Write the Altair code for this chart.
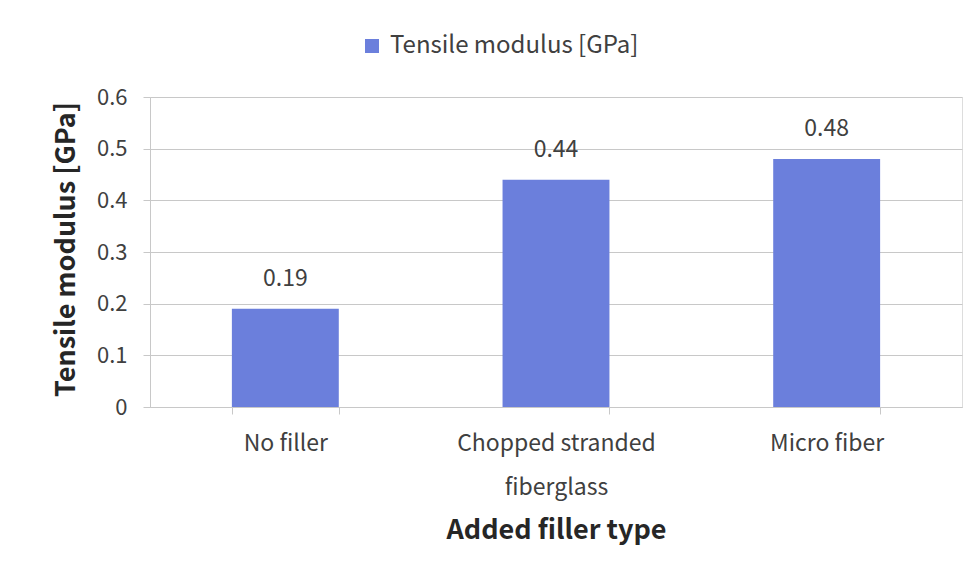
import altair as alt
import pandas as pd

categories = ["No filler", "Chopped stranded\nfiberglass", "Micro fiber"]
values = [0.19, 0.44, 0.48]
series_name = "Tensile modulus [GPa]"
y_ticks = [0, 0.1, 0.2, 0.3, 0.4, 0.5, 0.6]

df = pd.DataFrame({
    "cat": categories,
    "val": values,
    "series": [series_name] * len(categories),
})

FONT = "Noto Sans CJK KR"
BAR = "#6b7fdc"
TXT = "#404040"

x_enc = alt.X(
    "cat:N",
    sort=categories,
    scale=alt.Scale(paddingInner=0.605, paddingOuter=0.3025),
    axis=alt.Axis(
        title="Added filler type",
        labelExpr="split(datum.label, '\\n')",
        labelAngle=0,
        labelFontSize=23,
        labelLineHeight=44,
        labelPadding=18,
        labelLimit=400,
        labelColor=TXT,
        labelFont=FONT,
        tickBand="extent",
        tickSize=7,
        tickColor="#c8c8c8",
        domainColor="#c8c8c8",
        grid=False,
        titleFont=FONT,
        titleFontSize=27,
        titleFontWeight="bold",
        titleColor="#262626",
        titleY=123,
        titleBaseline="middle",
    ),
)

y_enc = alt.Y(
    "val:Q",
    scale=alt.Scale(domain=[0, 0.6], nice=False),
    axis=alt.Axis(
        title="Tensile modulus [GPa]",
        values=y_ticks,
        labelExpr="datum.value == 0 ? '0' : format(datum.value, '.1f')",
        labelFontSize=22,
        labelPadding=16,
        labelColor=TXT,
        labelFont=FONT,
        tickSize=7,
        tickColor="#c8c8c8",
        domainColor="#c8c8c8",
        gridColor="#c8c8c8",
        titleFont=FONT,
        titleFontSize=27,
        titleFontWeight="bold",
        titleColor="#262626",
        titleX=-70,
        titleY=152,
        titleAngle=270,
        titleBaseline="bottom",
        titleAlign="center",
    ),
)

bars = alt.Chart(df).mark_bar().encode(
    x=x_enc,
    y=y_enc,
    color=alt.Color(
        "series:N",
        scale=alt.Scale(range=[BAR]),
        legend=alt.Legend(
            title=None,
            orient="none",
            legendX=210,
            legendY=-63,
            symbolType="square",
            symbolSize=196,
            symbolStrokeWidth=0,
            labelFontSize=24,
            labelFont=FONT,
            labelColor=TXT,
            labelLimit=400,
            labelOffset=6,
        ),
    ),
)

labels = alt.Chart(df).mark_text(
    baseline="middle", dy=-30, fontSize=23, font=FONT, color=TXT
).encode(
    x=alt.X("cat:N", sort=categories),
    y=alt.Y("val:Q"),
    text=alt.Text("val:Q", format=".2f"),
)

chart = (
    alt.layer(bars, labels)
    .properties(
        width=812,
        height=310,
        autosize=alt.AutoSizeParams(type="none"),
        padding={"left": 150, "top": 97, "right": 17, "bottom": 172},
    )
    .configure_view(stroke=None)
    .configure(background="white")
)

chart.save("out.html", embed_options={"renderer": "svg", "actions": False})
